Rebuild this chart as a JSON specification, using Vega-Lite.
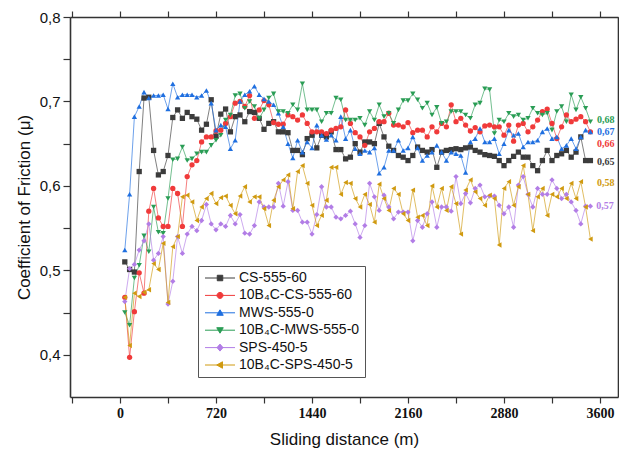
{
"$schema": "https://vega.github.io/schema/vega-lite/v6.json",
"width": 548, "height": 380,
"autosize": {"type": "none"},
"padding": {"left": 70, "top": 17, "right": 1, "bottom": 59},
"background": "white",
"config": {"view": {"stroke": null}, "axis": {"grid": false, "domainColor": "#333", "tickColor": "#333", "domainWidth": 1.6, "tickWidth": 1.2}},
"datasets": {
"ends": [
{"s":"10B₄C-MWS-555-0","d":3578,"f":0.678,"t":"0,68"},
{"s":"MWS-555-0","d":3578,"f":0.664,"t":"0,67"},
{"s":"10B₄C-CS-555-60","d":3578,"f":0.650,"t":"0,66"},
{"s":"CS-555-60","d":3578,"f":0.628,"t":"0,65"},
{"s":"10B₄C-SPS-450-5","d":3578,"f":0.604,"t":"0,58"},
{"s":"SPS-450-5","d":3571,"f":0.576,"t":"0,57"}
],
"main": [
{"s":"CS-555-60","d":36,"f":0.510},{"s":"CS-555-60","d":72,"f":0.501},{"s":"CS-555-60","d":108,"f":0.498},{"s":"CS-555-60","d":144,"f":0.617},{"s":"CS-555-60","d":180,"f":0.704},{"s":"CS-555-60","d":216,"f":0.705},{"s":"CS-555-60","d":252,"f":0.642},{"s":"CS-555-60","d":288,"f":0.613},{"s":"CS-555-60","d":324,"f":0.617},{"s":"CS-555-60","d":360,"f":0.636},
{"s":"CS-555-60","d":396,"f":0.681},{"s":"CS-555-60","d":432,"f":0.690},{"s":"CS-555-60","d":468,"f":0.680},{"s":"CS-555-60","d":504,"f":0.687},{"s":"CS-555-60","d":540,"f":0.682},{"s":"CS-555-60","d":576,"f":0.679},{"s":"CS-555-60","d":612,"f":0.666},{"s":"CS-555-60","d":648,"f":0.673},{"s":"CS-555-60","d":684,"f":0.702},{"s":"CS-555-60","d":720,"f":0.659},
{"s":"CS-555-60","d":756,"f":0.685},{"s":"CS-555-60","d":792,"f":0.691},{"s":"CS-555-60","d":828,"f":0.664},{"s":"CS-555-60","d":864,"f":0.682},{"s":"CS-555-60","d":900,"f":0.684},{"s":"CS-555-60","d":936,"f":0.676},{"s":"CS-555-60","d":972,"f":0.688},{"s":"CS-555-60","d":1008,"f":0.687},{"s":"CS-555-60","d":1044,"f":0.680},{"s":"CS-555-60","d":1080,"f":0.667},
{"s":"CS-555-60","d":1116,"f":0.674},{"s":"CS-555-60","d":1152,"f":0.676},{"s":"CS-555-60","d":1188,"f":0.664},{"s":"CS-555-60","d":1224,"f":0.664},{"s":"CS-555-60","d":1260,"f":0.663},{"s":"CS-555-60","d":1296,"f":0.642},{"s":"CS-555-60","d":1332,"f":0.642},{"s":"CS-555-60","d":1368,"f":0.637},{"s":"CS-555-60","d":1404,"f":0.656},{"s":"CS-555-60","d":1440,"f":0.660},
{"s":"CS-555-60","d":1476,"f":0.645},{"s":"CS-555-60","d":1512,"f":0.660},{"s":"CS-555-60","d":1548,"f":0.658},{"s":"CS-555-60","d":1584,"f":0.664},{"s":"CS-555-60","d":1620,"f":0.643},{"s":"CS-555-60","d":1656,"f":0.643},{"s":"CS-555-60","d":1692,"f":0.632},{"s":"CS-555-60","d":1728,"f":0.634},{"s":"CS-555-60","d":1764,"f":0.650},{"s":"CS-555-60","d":1800,"f":0.640},
{"s":"CS-555-60","d":1836,"f":0.652},{"s":"CS-555-60","d":1872,"f":0.652},{"s":"CS-555-60","d":1908,"f":0.650},{"s":"CS-555-60","d":1944,"f":0.674},{"s":"CS-555-60","d":1980,"f":0.658},{"s":"CS-555-60","d":2016,"f":0.647},{"s":"CS-555-60","d":2052,"f":0.642},{"s":"CS-555-60","d":2088,"f":0.636},{"s":"CS-555-60","d":2124,"f":0.634},{"s":"CS-555-60","d":2160,"f":0.630},
{"s":"CS-555-60","d":2196,"f":0.636},{"s":"CS-555-60","d":2232,"f":0.646},{"s":"CS-555-60","d":2268,"f":0.642},{"s":"CS-555-60","d":2304,"f":0.640},{"s":"CS-555-60","d":2340,"f":0.643},{"s":"CS-555-60","d":2376,"f":0.622},{"s":"CS-555-60","d":2412,"f":0.640},{"s":"CS-555-60","d":2448,"f":0.642},{"s":"CS-555-60","d":2484,"f":0.643},{"s":"CS-555-60","d":2520,"f":0.644},
{"s":"CS-555-60","d":2556,"f":0.643},{"s":"CS-555-60","d":2592,"f":0.645},{"s":"CS-555-60","d":2628,"f":0.646},{"s":"CS-555-60","d":2664,"f":0.642},{"s":"CS-555-60","d":2700,"f":0.640},{"s":"CS-555-60","d":2736,"f":0.637},{"s":"CS-555-60","d":2772,"f":0.636},{"s":"CS-555-60","d":2808,"f":0.635},{"s":"CS-555-60","d":2844,"f":0.630},{"s":"CS-555-60","d":2880,"f":0.624},
{"s":"CS-555-60","d":2916,"f":0.630},{"s":"CS-555-60","d":2952,"f":0.635},{"s":"CS-555-60","d":2988,"f":0.640},{"s":"CS-555-60","d":3024,"f":0.634},{"s":"CS-555-60","d":3060,"f":0.634},{"s":"CS-555-60","d":3096,"f":0.624},{"s":"CS-555-60","d":3132,"f":0.618},{"s":"CS-555-60","d":3168,"f":0.630},{"s":"CS-555-60","d":3204,"f":0.642},{"s":"CS-555-60","d":3240,"f":0.630},
{"s":"CS-555-60","d":3276,"f":0.636},{"s":"CS-555-60","d":3312,"f":0.638},{"s":"CS-555-60","d":3348,"f":0.642},{"s":"CS-555-60","d":3384,"f":0.634},{"s":"CS-555-60","d":3420,"f":0.640},{"s":"CS-555-60","d":3456,"f":0.658},{"s":"CS-555-60","d":3492,"f":0.630},{"s":"CS-555-60","d":3528,"f":0.630},

{"s":"10B₄C-CS-555-60","d":36,"f":0.468},{"s":"10B₄C-CS-555-60","d":72,"f":0.397},{"s":"10B₄C-CS-555-60","d":108,"f":0.451},{"s":"10B₄C-CS-555-60","d":144,"f":0.497},{"s":"10B₄C-CS-555-60","d":180,"f":0.473},{"s":"10B₄C-CS-555-60","d":216,"f":0.570},{"s":"10B₄C-CS-555-60","d":252,"f":0.597},{"s":"10B₄C-CS-555-60","d":288,"f":0.562},{"s":"10B₄C-CS-555-60","d":324,"f":0.552},{"s":"10B₄C-CS-555-60","d":360,"f":0.552},
{"s":"10B₄C-CS-555-60","d":396,"f":0.597},{"s":"10B₄C-CS-555-60","d":432,"f":0.591},{"s":"10B₄C-CS-555-60","d":468,"f":0.552},{"s":"10B₄C-CS-555-60","d":504,"f":0.611},{"s":"10B₄C-CS-555-60","d":540,"f":0.625},{"s":"10B₄C-CS-555-60","d":576,"f":0.630},{"s":"10B₄C-CS-555-60","d":612,"f":0.652},{"s":"10B₄C-CS-555-60","d":648,"f":0.658},{"s":"10B₄C-CS-555-60","d":684,"f":0.658},{"s":"10B₄C-CS-555-60","d":720,"f":0.665},
{"s":"10B₄C-CS-555-60","d":756,"f":0.666},{"s":"10B₄C-CS-555-60","d":792,"f":0.674},{"s":"10B₄C-CS-555-60","d":828,"f":0.682},{"s":"10B₄C-CS-555-60","d":864,"f":0.698},{"s":"10B₄C-CS-555-60","d":900,"f":0.700},{"s":"10B₄C-CS-555-60","d":936,"f":0.694},{"s":"10B₄C-CS-555-60","d":972,"f":0.707},{"s":"10B₄C-CS-555-60","d":1008,"f":0.680},{"s":"10B₄C-CS-555-60","d":1044,"f":0.690},{"s":"10B₄C-CS-555-60","d":1080,"f":0.701},
{"s":"10B₄C-CS-555-60","d":1116,"f":0.696},{"s":"10B₄C-CS-555-60","d":1152,"f":0.675},{"s":"10B₄C-CS-555-60","d":1188,"f":0.673},{"s":"10B₄C-CS-555-60","d":1224,"f":0.673},{"s":"10B₄C-CS-555-60","d":1260,"f":0.684},{"s":"10B₄C-CS-555-60","d":1296,"f":0.682},{"s":"10B₄C-CS-555-60","d":1332,"f":0.678},{"s":"10B₄C-CS-555-60","d":1368,"f":0.684},{"s":"10B₄C-CS-555-60","d":1404,"f":0.674},{"s":"10B₄C-CS-555-60","d":1440,"f":0.664},
{"s":"10B₄C-CS-555-60","d":1476,"f":0.664},{"s":"10B₄C-CS-555-60","d":1512,"f":0.664},{"s":"10B₄C-CS-555-60","d":1548,"f":0.662},{"s":"10B₄C-CS-555-60","d":1584,"f":0.666},{"s":"10B₄C-CS-555-60","d":1620,"f":0.668},{"s":"10B₄C-CS-555-60","d":1656,"f":0.670},{"s":"10B₄C-CS-555-60","d":1692,"f":0.690},{"s":"10B₄C-CS-555-60","d":1728,"f":0.674},{"s":"10B₄C-CS-555-60","d":1764,"f":0.663},{"s":"10B₄C-CS-555-60","d":1800,"f":0.658},
{"s":"10B₄C-CS-555-60","d":1836,"f":0.648},{"s":"10B₄C-CS-555-60","d":1872,"f":0.664},{"s":"10B₄C-CS-555-60","d":1908,"f":0.668},{"s":"10B₄C-CS-555-60","d":1944,"f":0.676},{"s":"10B₄C-CS-555-60","d":1980,"f":0.676},{"s":"10B₄C-CS-555-60","d":2016,"f":0.686},{"s":"10B₄C-CS-555-60","d":2052,"f":0.672},{"s":"10B₄C-CS-555-60","d":2088,"f":0.672},{"s":"10B₄C-CS-555-60","d":2124,"f":0.670},{"s":"10B₄C-CS-555-60","d":2160,"f":0.675},
{"s":"10B₄C-CS-555-60","d":2196,"f":0.663},{"s":"10B₄C-CS-555-60","d":2232,"f":0.666},{"s":"10B₄C-CS-555-60","d":2268,"f":0.666},{"s":"10B₄C-CS-555-60","d":2304,"f":0.658},{"s":"10B₄C-CS-555-60","d":2340,"f":0.670},{"s":"10B₄C-CS-555-60","d":2376,"f":0.664},{"s":"10B₄C-CS-555-60","d":2412,"f":0.674},{"s":"10B₄C-CS-555-60","d":2448,"f":0.670},{"s":"10B₄C-CS-555-60","d":2484,"f":0.696},{"s":"10B₄C-CS-555-60","d":2520,"f":0.676},
{"s":"10B₄C-CS-555-60","d":2556,"f":0.680},{"s":"10B₄C-CS-555-60","d":2592,"f":0.672},{"s":"10B₄C-CS-555-60","d":2628,"f":0.665},{"s":"10B₄C-CS-555-60","d":2664,"f":0.669},{"s":"10B₄C-CS-555-60","d":2700,"f":0.664},{"s":"10B₄C-CS-555-60","d":2736,"f":0.671},{"s":"10B₄C-CS-555-60","d":2772,"f":0.672},{"s":"10B₄C-CS-555-60","d":2808,"f":0.670},{"s":"10B₄C-CS-555-60","d":2844,"f":0.670},{"s":"10B₄C-CS-555-60","d":2880,"f":0.660},
{"s":"10B₄C-CS-555-60","d":2916,"f":0.672},{"s":"10B₄C-CS-555-60","d":2952,"f":0.653},{"s":"10B₄C-CS-555-60","d":2988,"f":0.672},{"s":"10B₄C-CS-555-60","d":3024,"f":0.674},{"s":"10B₄C-CS-555-60","d":3060,"f":0.664},{"s":"10B₄C-CS-555-60","d":3096,"f":0.670},{"s":"10B₄C-CS-555-60","d":3132,"f":0.678},{"s":"10B₄C-CS-555-60","d":3168,"f":0.688},{"s":"10B₄C-CS-555-60","d":3204,"f":0.691},{"s":"10B₄C-CS-555-60","d":3240,"f":0.674},
{"s":"10B₄C-CS-555-60","d":3276,"f":0.656},{"s":"10B₄C-CS-555-60","d":3312,"f":0.670},{"s":"10B₄C-CS-555-60","d":3348,"f":0.684},{"s":"10B₄C-CS-555-60","d":3384,"f":0.676},{"s":"10B₄C-CS-555-60","d":3420,"f":0.679},{"s":"10B₄C-CS-555-60","d":3456,"f":0.682},{"s":"10B₄C-CS-555-60","d":3492,"f":0.676},{"s":"10B₄C-CS-555-60","d":3528,"f":0.664},

{"s":"MWS-555-0","d":36,"f":0.524},{"s":"MWS-555-0","d":72,"f":0.590},{"s":"MWS-555-0","d":108,"f":0.682},{"s":"MWS-555-0","d":144,"f":0.694},{"s":"MWS-555-0","d":180,"f":0.711},{"s":"MWS-555-0","d":216,"f":0.704},{"s":"MWS-555-0","d":252,"f":0.707},{"s":"MWS-555-0","d":288,"f":0.707},{"s":"MWS-555-0","d":324,"f":0.708},{"s":"MWS-555-0","d":360,"f":0.691},
{"s":"MWS-555-0","d":396,"f":0.721},{"s":"MWS-555-0","d":432,"f":0.705},{"s":"MWS-555-0","d":468,"f":0.708},{"s":"MWS-555-0","d":504,"f":0.708},{"s":"MWS-555-0","d":540,"f":0.708},{"s":"MWS-555-0","d":576,"f":0.705},{"s":"MWS-555-0","d":612,"f":0.707},{"s":"MWS-555-0","d":648,"f":0.713},{"s":"MWS-555-0","d":684,"f":0.698},{"s":"MWS-555-0","d":720,"f":0.666},
{"s":"MWS-555-0","d":756,"f":0.672},{"s":"MWS-555-0","d":792,"f":0.670},{"s":"MWS-555-0","d":828,"f":0.644},{"s":"MWS-555-0","d":864,"f":0.654},{"s":"MWS-555-0","d":900,"f":0.700},{"s":"MWS-555-0","d":936,"f":0.708},{"s":"MWS-555-0","d":972,"f":0.712},{"s":"MWS-555-0","d":1008,"f":0.718},{"s":"MWS-555-0","d":1044,"f":0.708},{"s":"MWS-555-0","d":1080,"f":0.703},
{"s":"MWS-555-0","d":1116,"f":0.700},{"s":"MWS-555-0","d":1152,"f":0.696},{"s":"MWS-555-0","d":1188,"f":0.686},{"s":"MWS-555-0","d":1224,"f":0.670},{"s":"MWS-555-0","d":1260,"f":0.650},{"s":"MWS-555-0","d":1296,"f":0.633},{"s":"MWS-555-0","d":1332,"f":0.654},{"s":"MWS-555-0","d":1368,"f":0.640},{"s":"MWS-555-0","d":1404,"f":0.652},{"s":"MWS-555-0","d":1440,"f":0.645},
{"s":"MWS-555-0","d":1476,"f":0.672},{"s":"MWS-555-0","d":1512,"f":0.660},{"s":"MWS-555-0","d":1548,"f":0.655},{"s":"MWS-555-0","d":1584,"f":0.660},{"s":"MWS-555-0","d":1620,"f":0.654},{"s":"MWS-555-0","d":1656,"f":0.682},{"s":"MWS-555-0","d":1692,"f":0.656},{"s":"MWS-555-0","d":1728,"f":0.666},{"s":"MWS-555-0","d":1764,"f":0.644},{"s":"MWS-555-0","d":1800,"f":0.638},
{"s":"MWS-555-0","d":1836,"f":0.642},{"s":"MWS-555-0","d":1872,"f":0.640},{"s":"MWS-555-0","d":1908,"f":0.645},{"s":"MWS-555-0","d":1944,"f":0.615},{"s":"MWS-555-0","d":1980,"f":0.622},{"s":"MWS-555-0","d":2016,"f":0.642},{"s":"MWS-555-0","d":2052,"f":0.642},{"s":"MWS-555-0","d":2088,"f":0.654},{"s":"MWS-555-0","d":2124,"f":0.642},{"s":"MWS-555-0","d":2160,"f":0.645},
{"s":"MWS-555-0","d":2196,"f":0.658},{"s":"MWS-555-0","d":2232,"f":0.645},{"s":"MWS-555-0","d":2268,"f":0.630},{"s":"MWS-555-0","d":2304,"f":0.636},{"s":"MWS-555-0","d":2340,"f":0.640},{"s":"MWS-555-0","d":2376,"f":0.648},{"s":"MWS-555-0","d":2412,"f":0.640},{"s":"MWS-555-0","d":2448,"f":0.630},{"s":"MWS-555-0","d":2484,"f":0.640},{"s":"MWS-555-0","d":2520,"f":0.638},
{"s":"MWS-555-0","d":2556,"f":0.636},{"s":"MWS-555-0","d":2592,"f":0.616},{"s":"MWS-555-0","d":2628,"f":0.652},{"s":"MWS-555-0","d":2664,"f":0.656},{"s":"MWS-555-0","d":2700,"f":0.668},{"s":"MWS-555-0","d":2736,"f":0.652},{"s":"MWS-555-0","d":2772,"f":0.652},{"s":"MWS-555-0","d":2808,"f":0.656},{"s":"MWS-555-0","d":2844,"f":0.638},{"s":"MWS-555-0","d":2880,"f":0.650},
{"s":"MWS-555-0","d":2916,"f":0.666},{"s":"MWS-555-0","d":2952,"f":0.660},{"s":"MWS-555-0","d":2988,"f":0.662},{"s":"MWS-555-0","d":3024,"f":0.646},{"s":"MWS-555-0","d":3060,"f":0.652},{"s":"MWS-555-0","d":3096,"f":0.652},{"s":"MWS-555-0","d":3132,"f":0.654},{"s":"MWS-555-0","d":3168,"f":0.664},{"s":"MWS-555-0","d":3204,"f":0.668},{"s":"MWS-555-0","d":3240,"f":0.656},
{"s":"MWS-555-0","d":3276,"f":0.658},{"s":"MWS-555-0","d":3312,"f":0.644},{"s":"MWS-555-0","d":3348,"f":0.648},{"s":"MWS-555-0","d":3384,"f":0.656},{"s":"MWS-555-0","d":3420,"f":0.644},{"s":"MWS-555-0","d":3456,"f":0.658},{"s":"MWS-555-0","d":3492,"f":0.666},{"s":"MWS-555-0","d":3528,"f":0.664},

{"s":"10B₄C-MWS-555-0","d":36,"f":0.450},{"s":"10B₄C-MWS-555-0","d":72,"f":0.435},{"s":"10B₄C-MWS-555-0","d":108,"f":0.491},{"s":"10B₄C-MWS-555-0","d":144,"f":0.506},{"s":"10B₄C-MWS-555-0","d":180,"f":0.541},{"s":"10B₄C-MWS-555-0","d":216,"f":0.522},{"s":"10B₄C-MWS-555-0","d":252,"f":0.575},{"s":"10B₄C-MWS-555-0","d":288,"f":0.545},{"s":"10B₄C-MWS-555-0","d":324,"f":0.544},{"s":"10B₄C-MWS-555-0","d":360,"f":0.585},
{"s":"10B₄C-MWS-555-0","d":396,"f":0.631},{"s":"10B₄C-MWS-555-0","d":432,"f":0.632},{"s":"10B₄C-MWS-555-0","d":468,"f":0.646},{"s":"10B₄C-MWS-555-0","d":504,"f":0.630},{"s":"10B₄C-MWS-555-0","d":540,"f":0.632},{"s":"10B₄C-MWS-555-0","d":576,"f":0.638},{"s":"10B₄C-MWS-555-0","d":612,"f":0.640},{"s":"10B₄C-MWS-555-0","d":648,"f":0.640},{"s":"10B₄C-MWS-555-0","d":684,"f":0.648},{"s":"10B₄C-MWS-555-0","d":720,"f":0.654},
{"s":"10B₄C-MWS-555-0","d":756,"f":0.660},{"s":"10B₄C-MWS-555-0","d":792,"f":0.678},{"s":"10B₄C-MWS-555-0","d":828,"f":0.684},{"s":"10B₄C-MWS-555-0","d":864,"f":0.707},{"s":"10B₄C-MWS-555-0","d":900,"f":0.709},{"s":"10B₄C-MWS-555-0","d":936,"f":0.692},{"s":"10B₄C-MWS-555-0","d":972,"f":0.700},{"s":"10B₄C-MWS-555-0","d":1008,"f":0.694},{"s":"10B₄C-MWS-555-0","d":1044,"f":0.680},{"s":"10B₄C-MWS-555-0","d":1080,"f":0.690},
{"s":"10B₄C-MWS-555-0","d":1116,"f":0.704},{"s":"10B₄C-MWS-555-0","d":1152,"f":0.709},{"s":"10B₄C-MWS-555-0","d":1188,"f":0.688},{"s":"10B₄C-MWS-555-0","d":1224,"f":0.688},{"s":"10B₄C-MWS-555-0","d":1260,"f":0.686},{"s":"10B₄C-MWS-555-0","d":1296,"f":0.696},{"s":"10B₄C-MWS-555-0","d":1332,"f":0.690},{"s":"10B₄C-MWS-555-0","d":1368,"f":0.721},{"s":"10B₄C-MWS-555-0","d":1404,"f":0.690},{"s":"10B₄C-MWS-555-0","d":1440,"f":0.690},
{"s":"10B₄C-MWS-555-0","d":1476,"f":0.690},{"s":"10B₄C-MWS-555-0","d":1512,"f":0.676},{"s":"10B₄C-MWS-555-0","d":1548,"f":0.686},{"s":"10B₄C-MWS-555-0","d":1584,"f":0.686},{"s":"10B₄C-MWS-555-0","d":1620,"f":0.704},{"s":"10B₄C-MWS-555-0","d":1656,"f":0.702},{"s":"10B₄C-MWS-555-0","d":1692,"f":0.678},{"s":"10B₄C-MWS-555-0","d":1728,"f":0.678},{"s":"10B₄C-MWS-555-0","d":1764,"f":0.678},{"s":"10B₄C-MWS-555-0","d":1800,"f":0.680},
{"s":"10B₄C-MWS-555-0","d":1836,"f":0.672},{"s":"10B₄C-MWS-555-0","d":1872,"f":0.688},{"s":"10B₄C-MWS-555-0","d":1908,"f":0.678},{"s":"10B₄C-MWS-555-0","d":1944,"f":0.696},{"s":"10B₄C-MWS-555-0","d":1980,"f":0.682},{"s":"10B₄C-MWS-555-0","d":2016,"f":0.686},{"s":"10B₄C-MWS-555-0","d":2052,"f":0.674},{"s":"10B₄C-MWS-555-0","d":2088,"f":0.690},{"s":"10B₄C-MWS-555-0","d":2124,"f":0.701},{"s":"10B₄C-MWS-555-0","d":2160,"f":0.701},
{"s":"10B₄C-MWS-555-0","d":2196,"f":0.709},{"s":"10B₄C-MWS-555-0","d":2232,"f":0.702},{"s":"10B₄C-MWS-555-0","d":2268,"f":0.692},{"s":"10B₄C-MWS-555-0","d":2304,"f":0.698},{"s":"10B₄C-MWS-555-0","d":2340,"f":0.684},{"s":"10B₄C-MWS-555-0","d":2376,"f":0.693},{"s":"10B₄C-MWS-555-0","d":2412,"f":0.674},{"s":"10B₄C-MWS-555-0","d":2448,"f":0.676},{"s":"10B₄C-MWS-555-0","d":2484,"f":0.688},{"s":"10B₄C-MWS-555-0","d":2520,"f":0.688},
{"s":"10B₄C-MWS-555-0","d":2556,"f":0.688},{"s":"10B₄C-MWS-555-0","d":2592,"f":0.684},{"s":"10B₄C-MWS-555-0","d":2628,"f":0.680},{"s":"10B₄C-MWS-555-0","d":2664,"f":0.696},{"s":"10B₄C-MWS-555-0","d":2700,"f":0.698},{"s":"10B₄C-MWS-555-0","d":2736,"f":0.715},{"s":"10B₄C-MWS-555-0","d":2772,"f":0.714},{"s":"10B₄C-MWS-555-0","d":2808,"f":0.662},{"s":"10B₄C-MWS-555-0","d":2844,"f":0.678},{"s":"10B₄C-MWS-555-0","d":2880,"f":0.676},
{"s":"10B₄C-MWS-555-0","d":2916,"f":0.686},{"s":"10B₄C-MWS-555-0","d":2952,"f":0.682},{"s":"10B₄C-MWS-555-0","d":2988,"f":0.684},{"s":"10B₄C-MWS-555-0","d":3024,"f":0.678},{"s":"10B₄C-MWS-555-0","d":3060,"f":0.680},{"s":"10B₄C-MWS-555-0","d":3096,"f":0.692},{"s":"10B₄C-MWS-555-0","d":3132,"f":0.686},{"s":"10B₄C-MWS-555-0","d":3168,"f":0.684},{"s":"10B₄C-MWS-555-0","d":3204,"f":0.686},{"s":"10B₄C-MWS-555-0","d":3240,"f":0.666},
{"s":"10B₄C-MWS-555-0","d":3276,"f":0.688},{"s":"10B₄C-MWS-555-0","d":3312,"f":0.694},{"s":"10B₄C-MWS-555-0","d":3348,"f":0.676},{"s":"10B₄C-MWS-555-0","d":3384,"f":0.708},{"s":"10B₄C-MWS-555-0","d":3420,"f":0.690},{"s":"10B₄C-MWS-555-0","d":3456,"f":0.705},{"s":"10B₄C-MWS-555-0","d":3492,"f":0.692},{"s":"10B₄C-MWS-555-0","d":3528,"f":0.676},

{"s":"SPS-450-5","d":36,"f":0.463},{"s":"SPS-450-5","d":72,"f":0.502},{"s":"SPS-450-5","d":108,"f":0.507},{"s":"SPS-450-5","d":144,"f":0.524},{"s":"SPS-450-5","d":180,"f":0.535},{"s":"SPS-450-5","d":216,"f":0.555},{"s":"SPS-450-5","d":252,"f":0.512},{"s":"SPS-450-5","d":288,"f":0.520},{"s":"SPS-450-5","d":324,"f":0.540},{"s":"SPS-450-5","d":360,"f":0.460},
{"s":"SPS-450-5","d":396,"f":0.487},{"s":"SPS-450-5","d":432,"f":0.540},{"s":"SPS-450-5","d":468,"f":0.520},{"s":"SPS-450-5","d":504,"f":0.543},{"s":"SPS-450-5","d":540,"f":0.552},{"s":"SPS-450-5","d":576,"f":0.547},{"s":"SPS-450-5","d":612,"f":0.559},{"s":"SPS-450-5","d":648,"f":0.578},{"s":"SPS-450-5","d":684,"f":0.555},{"s":"SPS-450-5","d":720,"f":0.548},
{"s":"SPS-450-5","d":756,"f":0.555},{"s":"SPS-450-5","d":792,"f":0.552},{"s":"SPS-450-5","d":828,"f":0.565},{"s":"SPS-450-5","d":864,"f":0.555},{"s":"SPS-450-5","d":900,"f":0.566},{"s":"SPS-450-5","d":936,"f":0.544},{"s":"SPS-450-5","d":972,"f":0.543},{"s":"SPS-450-5","d":1008,"f":0.553},{"s":"SPS-450-5","d":1044,"f":0.581},{"s":"SPS-450-5","d":1080,"f":0.575},
{"s":"SPS-450-5","d":1116,"f":0.575},{"s":"SPS-450-5","d":1152,"f":0.575},{"s":"SPS-450-5","d":1188,"f":0.603},{"s":"SPS-450-5","d":1224,"f":0.576},{"s":"SPS-450-5","d":1260,"f":0.605},{"s":"SPS-450-5","d":1296,"f":0.571},{"s":"SPS-450-5","d":1332,"f":0.571},{"s":"SPS-450-5","d":1368,"f":0.557},{"s":"SPS-450-5","d":1404,"f":0.557},{"s":"SPS-450-5","d":1440,"f":0.543},
{"s":"SPS-450-5","d":1476,"f":0.566},{"s":"SPS-450-5","d":1512,"f":0.599},{"s":"SPS-450-5","d":1548,"f":0.575},{"s":"SPS-450-5","d":1584,"f":0.575},{"s":"SPS-450-5","d":1620,"f":0.563},{"s":"SPS-450-5","d":1656,"f":0.561},{"s":"SPS-450-5","d":1692,"f":0.565},{"s":"SPS-450-5","d":1728,"f":0.570},{"s":"SPS-450-5","d":1764,"f":0.555},{"s":"SPS-450-5","d":1800,"f":0.539},
{"s":"SPS-450-5","d":1836,"f":0.553},{"s":"SPS-450-5","d":1872,"f":0.603},{"s":"SPS-450-5","d":1908,"f":0.587},{"s":"SPS-450-5","d":1944,"f":0.571},{"s":"SPS-450-5","d":1980,"f":0.589},{"s":"SPS-450-5","d":2016,"f":0.575},{"s":"SPS-450-5","d":2052,"f":0.561},{"s":"SPS-450-5","d":2088,"f":0.569},{"s":"SPS-450-5","d":2124,"f":0.569},{"s":"SPS-450-5","d":2160,"f":0.569},
{"s":"SPS-450-5","d":2196,"f":0.535},{"s":"SPS-450-5","d":2232,"f":0.559},{"s":"SPS-450-5","d":2268,"f":0.551},{"s":"SPS-450-5","d":2304,"f":0.567},{"s":"SPS-450-5","d":2340,"f":0.581},{"s":"SPS-450-5","d":2376,"f":0.551},{"s":"SPS-450-5","d":2412,"f":0.575},{"s":"SPS-450-5","d":2448,"f":0.575},{"s":"SPS-450-5","d":2484,"f":0.570},{"s":"SPS-450-5","d":2520,"f":0.611},
{"s":"SPS-450-5","d":2556,"f":0.579},{"s":"SPS-450-5","d":2592,"f":0.591},{"s":"SPS-450-5","d":2628,"f":0.580},{"s":"SPS-450-5","d":2664,"f":0.597},{"s":"SPS-450-5","d":2700,"f":0.601},{"s":"SPS-450-5","d":2736,"f":0.587},{"s":"SPS-450-5","d":2772,"f":0.588},{"s":"SPS-450-5","d":2808,"f":0.588},{"s":"SPS-450-5","d":2844,"f":0.577},{"s":"SPS-450-5","d":2880,"f":0.567},
{"s":"SPS-450-5","d":2916,"f":0.575},{"s":"SPS-450-5","d":2952,"f":0.551},{"s":"SPS-450-5","d":2988,"f":0.601},{"s":"SPS-450-5","d":3024,"f":0.611},{"s":"SPS-450-5","d":3060,"f":0.590},{"s":"SPS-450-5","d":3096,"f":0.575},{"s":"SPS-450-5","d":3132,"f":0.597},{"s":"SPS-450-5","d":3168,"f":0.590},{"s":"SPS-450-5","d":3204,"f":0.590},{"s":"SPS-450-5","d":3240,"f":0.607},
{"s":"SPS-450-5","d":3276,"f":0.597},{"s":"SPS-450-5","d":3312,"f":0.585},{"s":"SPS-450-5","d":3348,"f":0.590},{"s":"SPS-450-5","d":3384,"f":0.581},{"s":"SPS-450-5","d":3420,"f":0.571},{"s":"SPS-450-5","d":3456,"f":0.555},{"s":"SPS-450-5","d":3492,"f":0.576},{"s":"SPS-450-5","d":3528,"f":0.576},

{"s":"10B₄C-SPS-450-5","d":36,"f":0.468},{"s":"10B₄C-SPS-450-5","d":72,"f":0.411},{"s":"10B₄C-SPS-450-5","d":108,"f":0.473},{"s":"10B₄C-SPS-450-5","d":144,"f":0.469},{"s":"10B₄C-SPS-450-5","d":180,"f":0.474},{"s":"10B₄C-SPS-450-5","d":216,"f":0.477},{"s":"10B₄C-SPS-450-5","d":252,"f":0.508},{"s":"10B₄C-SPS-450-5","d":288,"f":0.501},{"s":"10B₄C-SPS-450-5","d":324,"f":0.532},{"s":"10B₄C-SPS-450-5","d":360,"f":0.462},
{"s":"10B₄C-SPS-450-5","d":396,"f":0.528},{"s":"10B₄C-SPS-450-5","d":432,"f":0.540},{"s":"10B₄C-SPS-450-5","d":468,"f":0.587},{"s":"10B₄C-SPS-450-5","d":504,"f":0.589},{"s":"10B₄C-SPS-450-5","d":540,"f":0.581},{"s":"10B₄C-SPS-450-5","d":576,"f":0.559},{"s":"10B₄C-SPS-450-5","d":612,"f":0.575},{"s":"10B₄C-SPS-450-5","d":648,"f":0.585},{"s":"10B₄C-SPS-450-5","d":684,"f":0.591},{"s":"10B₄C-SPS-450-5","d":720,"f":0.579},
{"s":"10B₄C-SPS-450-5","d":756,"f":0.586},{"s":"10B₄C-SPS-450-5","d":792,"f":0.588},{"s":"10B₄C-SPS-450-5","d":828,"f":0.577},{"s":"10B₄C-SPS-450-5","d":864,"f":0.567},{"s":"10B₄C-SPS-450-5","d":900,"f":0.588},{"s":"10B₄C-SPS-450-5","d":936,"f":0.599},{"s":"10B₄C-SPS-450-5","d":972,"f":0.581},{"s":"10B₄C-SPS-450-5","d":1008,"f":0.587},{"s":"10B₄C-SPS-450-5","d":1044,"f":0.587},{"s":"10B₄C-SPS-450-5","d":1080,"f":0.573},
{"s":"10B₄C-SPS-450-5","d":1116,"f":0.553},{"s":"10B₄C-SPS-450-5","d":1152,"f":0.583},{"s":"10B₄C-SPS-450-5","d":1188,"f":0.599},{"s":"10B₄C-SPS-450-5","d":1224,"f":0.607},{"s":"10B₄C-SPS-450-5","d":1260,"f":0.613},{"s":"10B₄C-SPS-450-5","d":1296,"f":0.573},{"s":"10B₄C-SPS-450-5","d":1332,"f":0.617},{"s":"10B₄C-SPS-450-5","d":1368,"f":0.624},{"s":"10B₄C-SPS-450-5","d":1404,"f":0.603},{"s":"10B₄C-SPS-450-5","d":1440,"f":0.577},
{"s":"10B₄C-SPS-450-5","d":1476,"f":0.553},{"s":"10B₄C-SPS-450-5","d":1512,"f":0.565},{"s":"10B₄C-SPS-450-5","d":1548,"f":0.583},{"s":"10B₄C-SPS-450-5","d":1584,"f":0.622},{"s":"10B₄C-SPS-450-5","d":1620,"f":0.622},{"s":"10B₄C-SPS-450-5","d":1656,"f":0.590},{"s":"10B₄C-SPS-450-5","d":1692,"f":0.604},{"s":"10B₄C-SPS-450-5","d":1728,"f":0.603},{"s":"10B₄C-SPS-450-5","d":1764,"f":0.585},{"s":"10B₄C-SPS-450-5","d":1800,"f":0.575},
{"s":"10B₄C-SPS-450-5","d":1836,"f":0.590},{"s":"10B₄C-SPS-450-5","d":1872,"f":0.578},{"s":"10B₄C-SPS-450-5","d":1908,"f":0.557},{"s":"10B₄C-SPS-450-5","d":1944,"f":0.602},{"s":"10B₄C-SPS-450-5","d":1980,"f":0.585},{"s":"10B₄C-SPS-450-5","d":2016,"f":0.571},{"s":"10B₄C-SPS-450-5","d":2052,"f":0.597},{"s":"10B₄C-SPS-450-5","d":2088,"f":0.590},{"s":"10B₄C-SPS-450-5","d":2124,"f":0.567},{"s":"10B₄C-SPS-450-5","d":2160,"f":0.559},
{"s":"10B₄C-SPS-450-5","d":2196,"f":0.595},{"s":"10B₄C-SPS-450-5","d":2232,"f":0.563},{"s":"10B₄C-SPS-450-5","d":2268,"f":0.565},{"s":"10B₄C-SPS-450-5","d":2304,"f":0.553},{"s":"10B₄C-SPS-450-5","d":2340,"f":0.600},{"s":"10B₄C-SPS-450-5","d":2376,"f":0.575},{"s":"10B₄C-SPS-450-5","d":2412,"f":0.597},{"s":"10B₄C-SPS-450-5","d":2448,"f":0.571},{"s":"10B₄C-SPS-450-5","d":2484,"f":0.599},{"s":"10B₄C-SPS-450-5","d":2520,"f":0.579},
{"s":"10B₄C-SPS-450-5","d":2556,"f":0.543},{"s":"10B₄C-SPS-450-5","d":2592,"f":0.595},{"s":"10B₄C-SPS-450-5","d":2628,"f":0.607},{"s":"10B₄C-SPS-450-5","d":2664,"f":0.593},{"s":"10B₄C-SPS-450-5","d":2700,"f":0.585},{"s":"10B₄C-SPS-450-5","d":2736,"f":0.577},{"s":"10B₄C-SPS-450-5","d":2772,"f":0.589},{"s":"10B₄C-SPS-450-5","d":2808,"f":0.585},{"s":"10B₄C-SPS-450-5","d":2844,"f":0.530},{"s":"10B₄C-SPS-450-5","d":2880,"f":0.597},
{"s":"10B₄C-SPS-450-5","d":2916,"f":0.605},{"s":"10B₄C-SPS-450-5","d":2952,"f":0.577},{"s":"10B₄C-SPS-450-5","d":2988,"f":0.599},{"s":"10B₄C-SPS-450-5","d":3024,"f":0.624},{"s":"10B₄C-SPS-450-5","d":3060,"f":0.590},{"s":"10B₄C-SPS-450-5","d":3096,"f":0.547},{"s":"10B₄C-SPS-450-5","d":3132,"f":0.587},{"s":"10B₄C-SPS-450-5","d":3168,"f":0.597},{"s":"10B₄C-SPS-450-5","d":3204,"f":0.565},{"s":"10B₄C-SPS-450-5","d":3240,"f":0.590},
{"s":"10B₄C-SPS-450-5","d":3276,"f":0.587},{"s":"10B₄C-SPS-450-5","d":3312,"f":0.597},{"s":"10B₄C-SPS-450-5","d":3348,"f":0.585},{"s":"10B₄C-SPS-450-5","d":3384,"f":0.603},{"s":"10B₄C-SPS-450-5","d":3420,"f":0.585},{"s":"10B₄C-SPS-450-5","d":3456,"f":0.605},{"s":"10B₄C-SPS-450-5","d":3492,"f":0.575},{"s":"10B₄C-SPS-450-5","d":3528,"f":0.537}
]
},
"layer": [
{
"data": {"name": "main"},
"mark": {"type": "line", "strokeWidth": 1, "opacity": 0.65},
"encoding": {
"x": {"field": "d", "type": "quantitative", "scale": {"domain": [-375, 3735], "nice": false, "zero": false},
"axis": {"orient": "bottom", "values": [-360,0,360,720,1080,1440,1800,2160,2520,2880,3240,3600], "format": "d",
"labelExpr": "datum.value % 720 === 0 && datum.value >= 0 ? datum.label : ''",
"tickSize": 6, "labelFont": "Liberation Serif", "labelFontWeight": "bold", "labelFontSize": 14, "labelColor": "#111", "labelPadding": 3, "labelFlush": false, "labelOverlap": false,
"title": "Sliding distance (m)", "titleFont": "Liberation Sans", "titleFontSize": 17, "titleFontWeight": "normal", "titleColor": "#111", "titlePadding": 11,
"encode": {"ticks": {"update": {"y2": {"signal": "datum.value % 720 === 0 ? 6 : 3"}}}}}},
"y": {"field": "f", "type": "quantitative", "scale": {"domain": [0.35, 0.8], "nice": false, "zero": false},
"axis": {"orient": "left", "values": [0.4,0.45,0.5,0.55,0.6,0.65,0.7,0.75,0.8],
"labelExpr": "round(datum.value*100) % 10 === 0 ? replace(format(datum.value, '.1f'), '.', ',') : ''",
"tickSize": 7, "labelFont": "Liberation Sans", "labelFontSize": 15, "labelColor": "#111", "labelPadding": 3, "labelOverlap": false, "labelFlush": false,
"title": "Coefficient of Friction (μ)", "titleFont": "Liberation Sans", "titleFontSize": 17, "titleFontWeight": "normal", "titleColor": "#111", "titlePadding": 6,
"encode": {"ticks": {"update": {"x2": {"signal": "round(datum.value*100) % 10 === 0 ? -7 : -4"}}}}}},
"stroke": {"field": "s", "type": "nominal", "legend": null,
"scale": {"range": ["#f03a3a","#2a9d55","#d09a10","#3c3c3c","#1f6fe0","#b27de6"]}}
}
},
{
"data": {"name": "main"},
"mark": {"type": "point", "filled": true, "size": 28, "opacity": 1},
"encoding": {
"x": {"field": "d", "type": "quantitative",
"axis": {"orient": "top", "values": [-360,0,360,720,1080,1440,1800,2160,2520,2880,3240,3600], "labels": false, "title": null, "tickSize": 6,
"encode": {"ticks": {"update": {"y2": {"signal": "datum.value % 720 === 0 ? 6 : 3"}}}}}},
"y": {"field": "f", "type": "quantitative",
"axis": {"orient": "right", "values": [0.4,0.5,0.6,0.7,0.8], "labels": false, "title": null, "tickSize": 4,
"encode": {"ticks": {"update": {"x2": {"value": -4}}}}}},
"color": {"field": "s", "type": "nominal",
"scale": {"domain": ["CS-555-60","10B₄C-CS-555-60","MWS-555-0","10B₄C-MWS-555-0","SPS-450-5","10B₄C-SPS-450-5"],
"range": ["#3c3c3c","#f03a3a","#1f6fe0","#2a9d55","#b27de6","#d09a10"]},
"legend": {"orient": "none", "legendX": 128, "legendY": 249, "title": null,
"labelFont": "Liberation Sans", "labelFontSize": 14, "labelColor": "#111", "labelLimit": 300,
"symbolSize": 100, "symbolOffset": 10, "labelOffset": 12, "rowPadding": 3.4, "padding": 5,
"strokeColor": "#555", "fillColor": "white", "cornerRadius": 0, "symbolOpacity": 1, "symbolStrokeWidth": 1,
"encode": {"symbols": {"update": {
"shape": {"signal": "datum.value === 'CS-555-60' ? 'M-3,0H3M-0.55,-0.55H0.55V0.55H-0.55Z' : datum.value === '10B₄C-CS-555-60' ? 'M-3,0H3M-0.6,0A0.6,0.6,0,1,0,0.6,0A0.6,0.6,0,1,0,-0.6,0Z' : datum.value === 'MWS-555-0' ? 'M-3,0H3M0,-0.6L0.65,0.5H-0.65Z' : datum.value === '10B₄C-MWS-555-0' ? 'M-3,0H3M0,0.6L0.65,-0.5H-0.65Z' : datum.value === 'SPS-450-5' ? 'M-3,0H3M0,-0.7L0.6,0L0,0.7L-0.6,0Z' : 'M-3,0H3M-0.65,0L0.5,-0.65V0.65Z'"},
"stroke": {"signal": "scale('color', datum.value)"},
"strokeWidth": {"value": 1},
"opacity": {"value": 1}}}}}},
"shape": {"field": "s", "type": "nominal", "legend": null,
"scale": {"range": ["circle","triangle-down","triangle-left","square","triangle-up","diamond"]}}
}
},
{
"data": {"name": "ends"},
"mark": {"type": "text", "align": "left", "baseline": "middle", "font": "Liberation Serif", "fontWeight": "bold", "fontSize": 10},
"encoding": {
"x": {"field": "d", "type": "quantitative", "axis": null},
"y": {"field": "f", "type": "quantitative", "axis": null},
"text": {"field": "t"},
"fill": {"field": "s", "type": "nominal", "legend": null,
"scale": {"range": ["#f03a3a","#2a9d55","#d09a10","#3c3c3c","#1f6fe0","#b27de6"]}}
}
}
],
"resolve": {"axis": {"x": "independent", "y": "independent"}}
}
